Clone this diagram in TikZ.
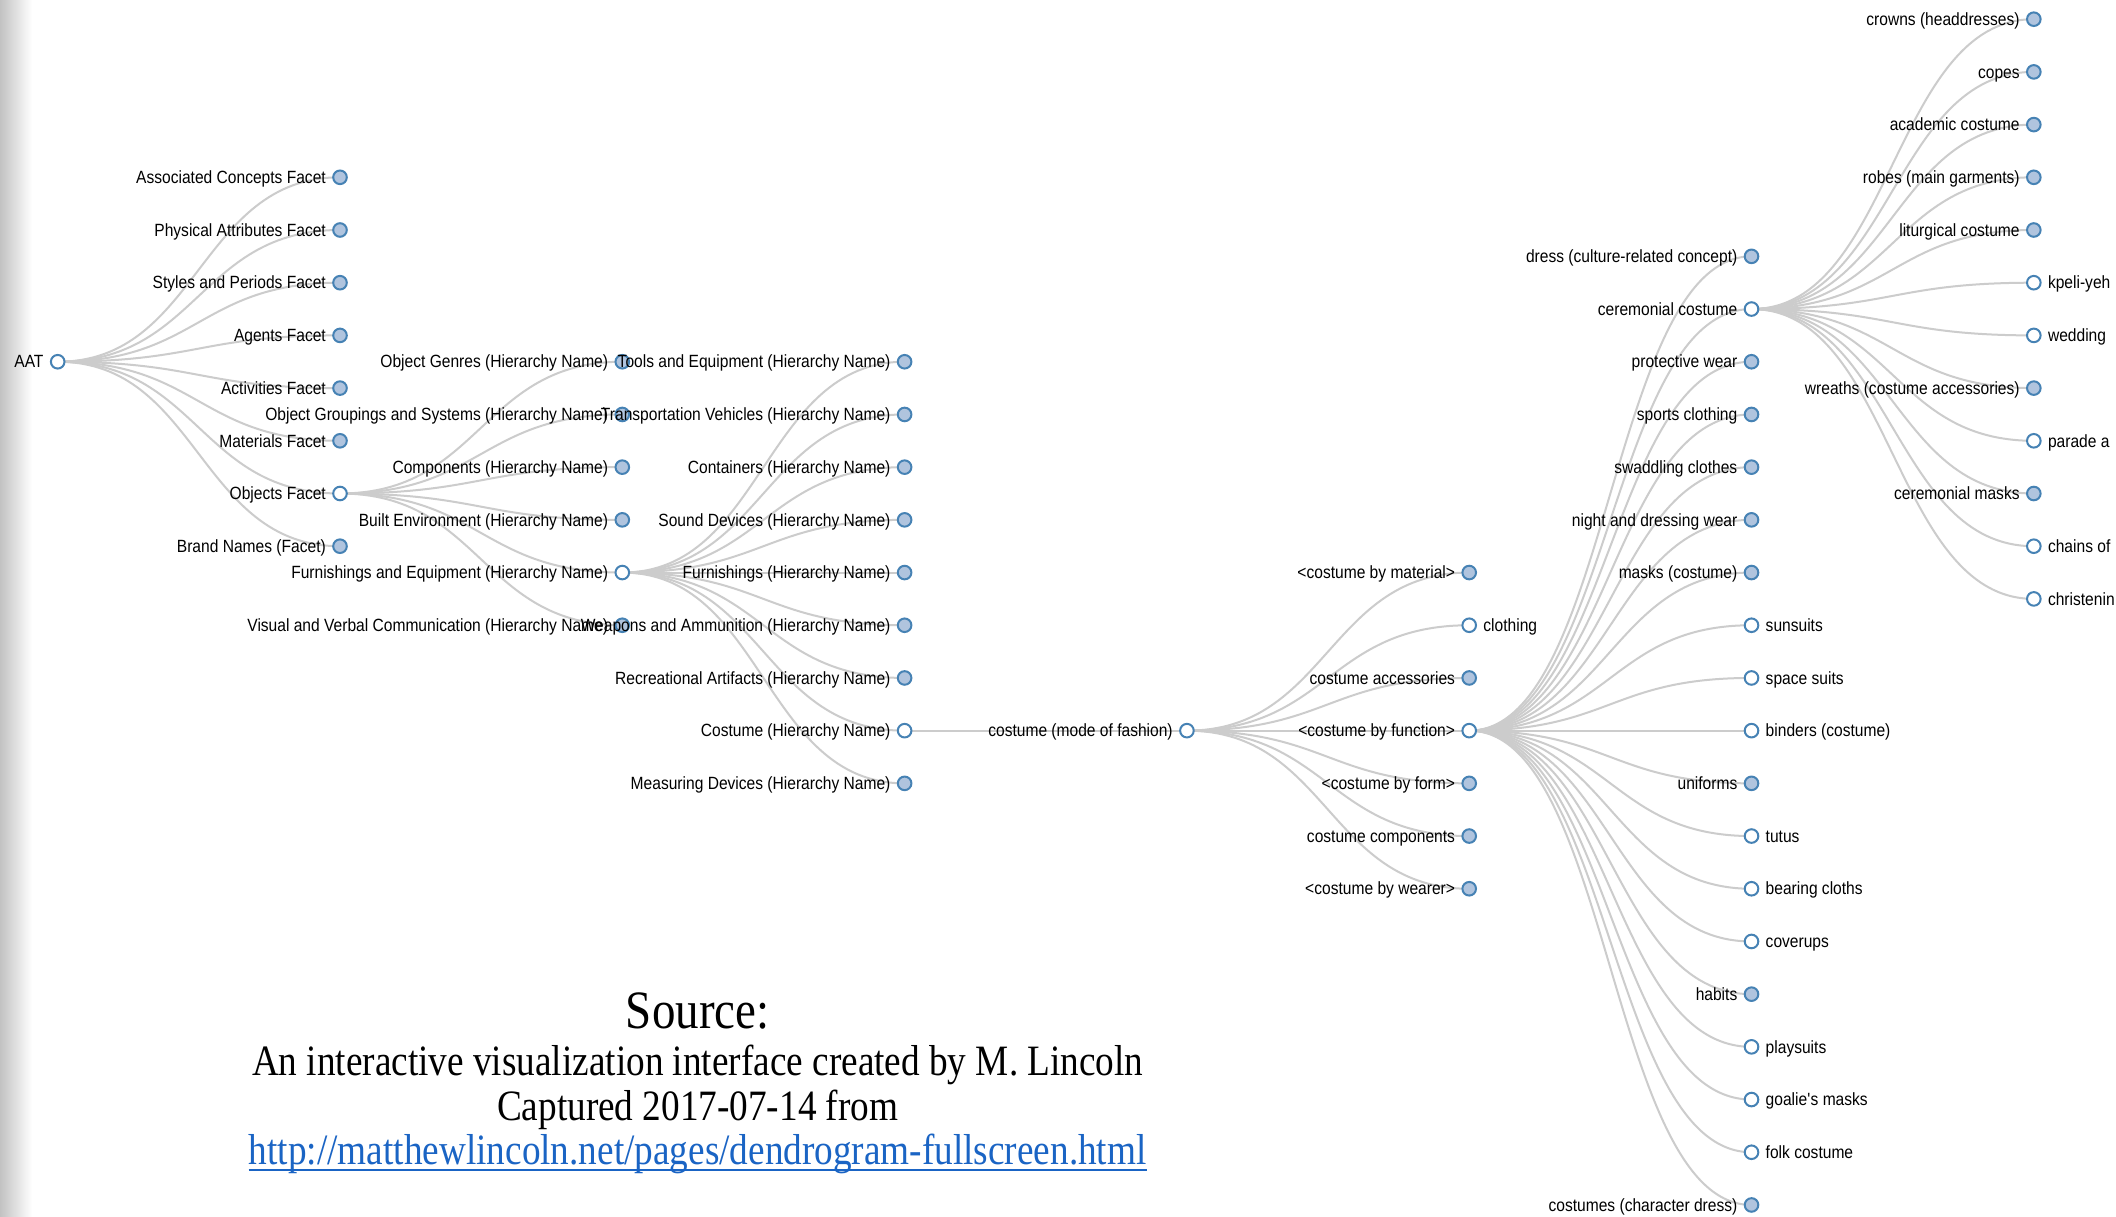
\documentclass[tikz,border=0pt]{standalone}
\usepackage{fontspec}
\setmainfont{Liberation Sans}
\newfontfamily\labfont[FakeStretch=0.88]{Liberation Sans}
\newfontfamily\srcfont[FakeStretch=0.87]{Liberation Serif}
\newfontfamily\srcbodyfont[FakeStretch=0.86]{Liberation Serif}
\usetikzlibrary{backgrounds}
\definecolor{steel}{HTML}{4682B4}
\definecolor{lsteel}{HTML}{B0C4DE}
\definecolor{linkgray}{HTML}{CCCCCC}
\definecolor{urlblue}{HTML}{1A64C4}
\tikzset{
  cf/.style={circle,draw=steel,line width=2,fill=lsteel,minimum size=13.6,inner sep=0},
  co/.style={circle,draw=steel,line width=2,fill=white,minimum size=13.6,inner sep=0},
  labL/.style={anchor=base east,inner sep=0,font=\labfont\fontsize{17.7}{20}\selectfont},
  labR/.style={anchor=base west,inner sep=0,font=\labfont\fontsize{17.7}{20}\selectfont},
  lnk/.style={draw=linkgray,line width=2},
  srcbig/.style={anchor=base,inner sep=0,font=\srcfont\fontsize{54}{60}\selectfont},
  srctxt/.style={anchor=base,inner sep=0,font=\srcbodyfont\fontsize{43.3}{50}\selectfont}
}
\newcommand\tn[6]{\node[#4] (#1) at ({57.7+282.3*#2},{19.2+52.7*#3}) {};
  \if L#5\node[labL] (#1t) at ([xshift=-14,yshift=-6.2]#1.center) {#6};\else\node[labR] (#1t) at ([xshift=14,yshift=-6.2]#1.center) {#6};\fi}
\newcommand\lk[2]{\draw[lnk] (#1.center) .. controls ([xshift=141.15]#1.center) and ([xshift=-141.15]#2.center) .. (#2.center);}
\begin{document}
\begin{tikzpicture}[x=1pt,y=-1pt]
\clip (0,0) rectangle (2116,1217);
% level 0
\tn{aat}{0}{6.5}{co}{L}{AAT}
% level 1
\tn{a1}{1}{3}{cf}{L}{Associated Concepts Facet}
\tn{a2}{1}{4}{cf}{L}{Physical Attributes Facet}
\tn{a3}{1}{5}{cf}{L}{Styles and Periods Facet}
\tn{a4}{1}{6}{cf}{L}{Agents Facet}
\tn{a5}{1}{7}{cf}{L}{Activities Facet}
\tn{a6}{1}{8}{cf}{L}{Materials Facet}
\tn{a7}{1}{9}{co}{L}{Objects Facet}
\tn{a8}{1}{10}{cf}{L}{Brand Names (Facet)}
% level 2
\tn{b1}{2}{6.5}{cf}{L}{Object Genres (Hierarchy Name)}
\tn{b2}{2}{7.5}{cf}{L}{Object Groupings and Systems (Hierarchy Name)}
\tn{b3}{2}{8.5}{cf}{L}{Components (Hierarchy Name)}
\tn{b4}{2}{9.5}{cf}{L}{Built Environment (Hierarchy Name)}
\tn{b5}{2}{10.5}{co}{L}{Furnishings and Equipment (Hierarchy Name)}
\tn{b6}{2}{11.5}{cf}{L}{Visual and Verbal Communication (Hierarchy Name)}
% level 3
\tn{c1}{3}{6.5}{cf}{L}{Tools and Equipment (Hierarchy Name)}
\tn{c2}{3}{7.5}{cf}{L}{Transportation Vehicles (Hierarchy Name)}
\tn{c3}{3}{8.5}{cf}{L}{Containers (Hierarchy Name)}
\tn{c4}{3}{9.5}{cf}{L}{Sound Devices (Hierarchy Name)}
\tn{c5}{3}{10.5}{cf}{L}{Furnishings (Hierarchy Name)}
\tn{c6}{3}{11.5}{cf}{L}{Weapons and Ammunition (Hierarchy Name)}
\tn{c7}{3}{12.5}{cf}{L}{Recreational Artifacts (Hierarchy Name)}
\tn{c8}{3}{13.5}{co}{L}{Costume (Hierarchy Name)}
\tn{c9}{3}{14.5}{cf}{L}{Measuring Devices (Hierarchy Name)}
% level 4
\tn{d1}{4}{13.5}{co}{L}{costume (mode of fashion)}
% level 5
\tn{e1}{5}{10.5}{cf}{L}{<costume by material>}
\tn{e2}{5}{11.5}{co}{R}{clothing}
\tn{e3}{5}{12.5}{cf}{L}{costume accessories}
\tn{e4}{5}{13.5}{co}{L}{<costume by function>}
\tn{e5}{5}{14.5}{cf}{L}{<costume by form>}
\tn{e6}{5}{15.5}{cf}{L}{costume components}
\tn{e7}{5}{16.5}{cf}{L}{<costume by wearer>}
% level 6
\tn{f1}{6}{4.5}{cf}{L}{dress (culture-related concept)}
\tn{f2}{6}{5.5}{co}{L}{ceremonial costume}
\tn{f3}{6}{6.5}{cf}{L}{protective wear}
\tn{f4}{6}{7.5}{cf}{L}{sports clothing}
\tn{f5}{6}{8.5}{cf}{L}{swaddling clothes}
\tn{f6}{6}{9.5}{cf}{L}{night and dressing wear}
\tn{f7}{6}{10.5}{cf}{L}{masks (costume)}
\tn{f8}{6}{11.5}{co}{R}{sunsuits}
\tn{f9}{6}{12.5}{co}{R}{space suits}
\tn{f10}{6}{13.5}{co}{R}{binders (costume)}
\tn{f11}{6}{14.5}{cf}{L}{uniforms}
\tn{f12}{6}{15.5}{co}{R}{tutus}
\tn{f13}{6}{16.5}{co}{R}{bearing cloths}
\tn{f14}{6}{17.5}{co}{R}{coverups}
\tn{f15}{6}{18.5}{cf}{L}{habits}
\tn{f16}{6}{19.5}{co}{R}{playsuits}
\tn{f17}{6}{20.5}{co}{R}{goalie\textquotesingle s masks}
\tn{f18}{6}{21.5}{co}{R}{folk costume}
\tn{f19}{6}{22.5}{cf}{L}{costumes (character dress)}
% level 7
\tn{g1}{7}{0}{cf}{L}{crowns (headdresses)}
\tn{g2}{7}{1}{cf}{L}{copes}
\tn{g3}{7}{2}{cf}{L}{academic costume}
\tn{g4}{7}{3}{cf}{L}{robes (main garments)}
\tn{g5}{7}{4}{cf}{L}{liturgical costume}
\tn{g6}{7}{5}{co}{R}{kpeli-yeh}
\tn{g7}{7}{6}{co}{R}{wedding}
\tn{g8}{7}{7}{cf}{L}{wreaths (costume accessories)}
\tn{g9}{7}{8}{co}{R}{parade a}
\tn{g10}{7}{9}{cf}{L}{ceremonial masks}
\tn{g11}{7}{10}{co}{R}{chains of}
\tn{g12}{7}{11}{co}{R}{christenin}
% source text
\node[srcbig] (s0) at (697.7,1028) {Source:};
\node[srctxt] (s1) at (697.7,1075.5) {An interactive visualization interface created by M. Lincoln};
\node[srctxt] (s2) at (697.7,1120) {Captured 2017-07-14 from};
\node[srctxt,text=urlblue] (s3) at (697.7,1164.5) {http://matthewlincoln.net/pages/dendrogram-fullscreen.html};
\draw[urlblue,line width=2] ([yshift=-5.5]s3.base west) -- ([yshift=-5.5]s3.base east);
% links and background
\begin{scope}[on background layer]
\fill[white] (0,0) rectangle (2116,1217);
\shade[left color=black!24,right color=white] (0,0) rectangle (32,1217);
\foreach \c in {a1,a2,a3,a4,a5,a6,a7,a8} {\lk{aat}{\c}}
\foreach \c in {b1,b2,b3,b4,b5,b6} {\lk{a7}{\c}}
\foreach \c in {c1,c2,c3,c4,c5,c6,c7,c8,c9} {\lk{b5}{\c}}
\lk{c8}{d1}
\foreach \c in {e1,e2,e3,e4,e5,e6,e7} {\lk{d1}{\c}}
\foreach \c in {f1,f2,f3,f4,f5,f6,f7,f8,f9,f10,f11,f12,f13,f14,f15,f16,f17,f18,f19} {\lk{e4}{\c}}
\foreach \c in {g1,g2,g3,g4,g5,g6,g7,g8,g9,g10,g11,g12} {\lk{f2}{\c}}
\end{scope}
\end{tikzpicture}
\end{document}
